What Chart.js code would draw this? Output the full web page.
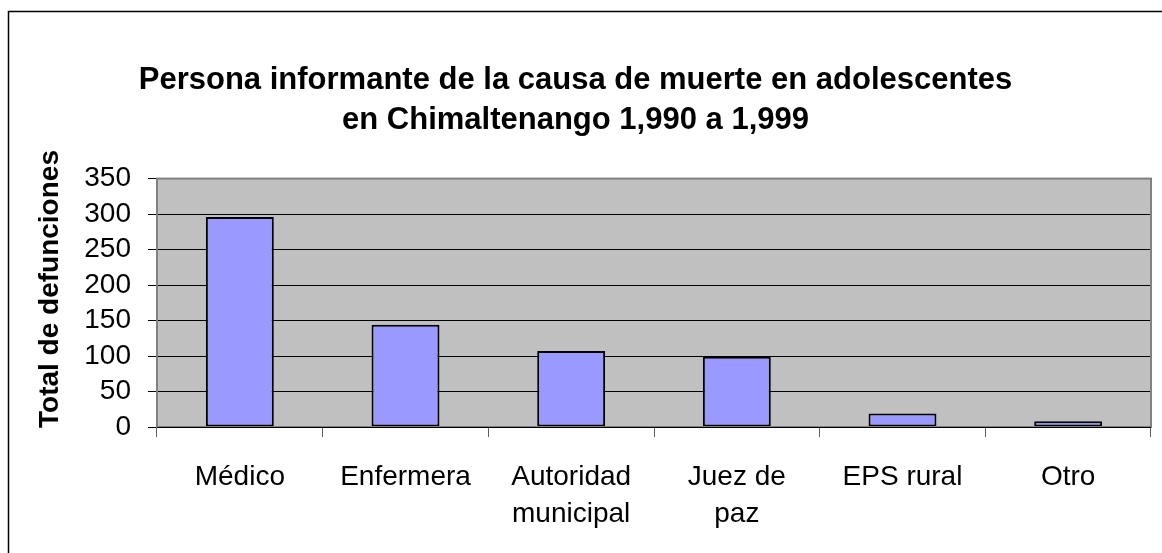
<!DOCTYPE html>
<html>
<head>
<meta charset="utf-8">
<script src="https://cdn.jsdelivr.net/npm/chart.js@4.4.1/dist/chart.umd.min.js"></script>
<style>
  html, body { margin: 0; padding: 0; background: #ffffff; }
  #wrap { width: 1162px; height: 553px; position: relative; }
</style>
</head>
<body>
<div id="wrap"><canvas id="c" width="1162" height="553"></canvas></div>
<script>
const titleLines = ["Persona informante de la causa de muerte en adolescentes", "en Chimaltenango 1,990 a 1,999"];
const yAxisTitle = "Total de defunciones";
const categories = ["Médico", "Enfermera", ["Autoridad", "municipal"], ["Juez de", "paz"], "EPS rural", "Otro"];
const values = [296, 144, 107, 99, 19, 8];
const yTicks = [0, 50, 100, 150, 200, 250, 300, 350];

const FONT = '"Liberation Sans", Arial, Helvetica, sans-serif';

const frame = {
  id: 'frame',
  beforeDraw(chart) {
    const ctx = chart.ctx, a = chart.chartArea;
    ctx.save();
    ctx.fillStyle = '#ffffff';
    ctx.fillRect(0, 0, chart.width, chart.height);
    ctx.fillStyle = '#C0C0C0';
    ctx.fillRect(a.left, a.top, a.right - a.left, a.bottom - a.top);
    ctx.restore();
  },
  afterDraw(chart) {
    const ctx = chart.ctx, a = chart.chartArea;
    ctx.save();
    ctx.strokeStyle = '#808080';
    ctx.lineWidth = 2;
    ctx.strokeRect(a.left, a.top, a.right - a.left, a.bottom - a.top);
    ctx.strokeStyle = '#000000';
    ctx.lineWidth = 1;
    ctx.beginPath();
    ctx.moveTo(a.left, a.bottom + 0.5);
    ctx.lineTo(a.right, a.bottom + 0.5);
    ctx.stroke();
    ctx.lineWidth = 1.5;
    ctx.strokeStyle = '#000000';
    ctx.strokeRect(8.5, 11.5, 1200, 600);
    // y axis title
    ctx.translate(50, 289);
    ctx.rotate(-Math.PI / 2);
    ctx.fillStyle = '#000000';
    ctx.font = 'bold 28px ' + FONT;
    ctx.textAlign = 'center';
    ctx.textBaseline = 'middle';
    ctx.fillText(yAxisTitle, 0, 0);
    ctx.restore();
  }
};

new Chart(document.getElementById('c'), {
  type: 'bar',
  data: {
    labels: categories,
    datasets: [{
      data: values,
      backgroundColor: '#9999FF',
      borderColor: '#000000',
      borderWidth: 2,
      borderSkipped: false,
      barPercentage: 0.41,
      categoryPercentage: 1.0
    }]
  },
  options: {
    responsive: false,
    animation: false,
    devicePixelRatio: 1,
    layout: { padding: { left: 0, right: 11, top: 0, bottom: 0 } },
    plugins: {
      legend: { display: false },
      tooltip: { enabled: false },
      title: {
        display: true,
        text: titleLines,
        color: '#000000',
        font: { family: FONT, size: 31, weight: 'bold', lineHeight: 1.3 },
        padding: { top: 60, bottom: 38 }
      }
    },
    scales: {
      x: {
        grid: { offset: true, drawOnChartArea: false, drawTicks: true, tickLength: 10, color: '#606060', lineWidth: 1 },
        border: { display: false },
        ticks: {
          color: '#000000',
          font: { family: FONT, size: 28, lineHeight: 1.32 },
          padding: 22,
          maxRotation: 0,
          autoSkip: false
        },
        afterFit(scale) { scale.height = 126; }
      },
      y: {
        min: 0,
        max: 350,
        afterBuildTicks(scale) { scale.ticks = yTicks.map(v => ({ value: v })); },
        grid: { color: '#000000', lineWidth: 1, drawTicks: true, tickLength: 9, tickColor: '#000000' },
        border: { display: false },
        ticks: {
          color: '#000000',
          font: { family: FONT, size: 28 },
          padding: 17,
          autoSkip: false
        },
        afterFit(scale) { scale.width = 157; }
      }
    }
  },
  plugins: [frame]
});
</script>
</body>
</html>
